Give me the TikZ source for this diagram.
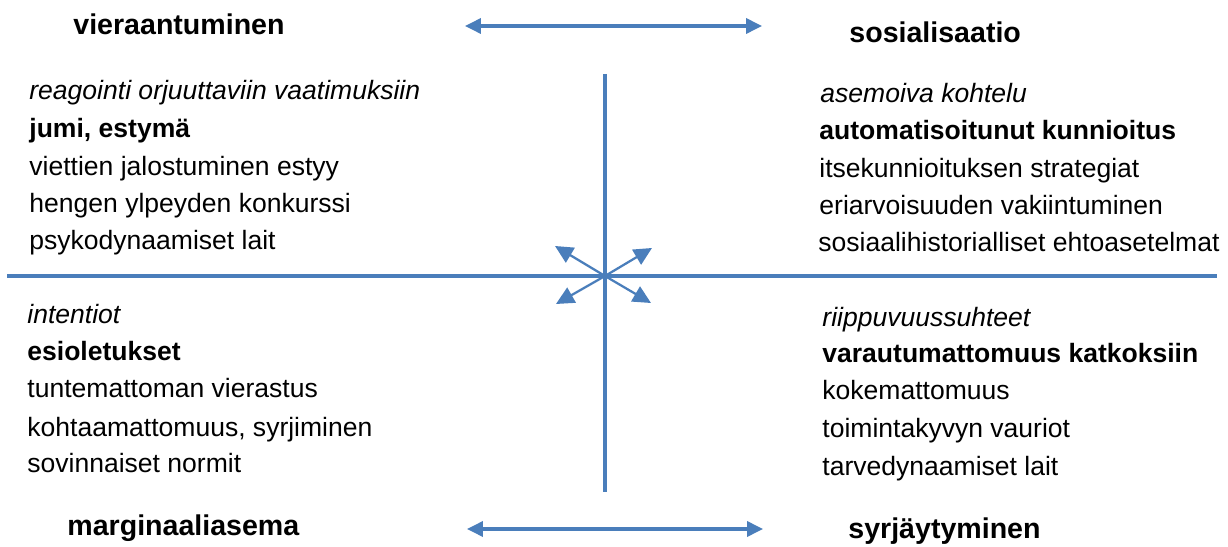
\documentclass[tikz,border=0pt]{standalone}
\usepackage{fontspec}
\setmainfont{Liberation Sans}
\usetikzlibrary{arrows.meta}
\definecolor{lineblue}{RGB}{74,126,187}
\tikzset{
  px/.style={x=0.49pt,y=-0.49pt},
  axis/.style={draw=lineblue,line width=1.5pt},
  dbl/.style={draw=lineblue,line width=1.5pt,{Triangle[length=7.8pt,width=7.4pt]}-{Triangle[length=7.8pt,width=7.4pt]}},
  diag/.style={draw=lineblue,line width=1.1pt,-{Triangle[length=8.8pt,width=8.4pt]}},
  head/.style={anchor=base west,inner sep=0pt,font=\fontsize{14pt}{16pt}\selectfont\bfseries},
  txt/.style={anchor=base west,inner sep=0pt,font=\fontsize{13pt}{15pt}\selectfont},
  itxt/.style={txt,font=\fontsize{13pt}{15pt}\selectfont\itshape},
  btxt/.style={txt,font=\fontsize{13pt}{15pt}\selectfont\bfseries}
}
\begin{document}
\begin{tikzpicture}[px]
\useasboundingbox (0,0) rectangle (1228,547);
% axes
\coordinate (vt) at (605,74);
\coordinate (vb) at (605,492);
\coordinate (hl) at (7,276);
\coordinate (hr) at (1217,276);
\coordinate (c) at (605,276);
\draw[axis] (vt) -- (vb);
\draw[axis] (hl) -- (hr);
% diagonal arrows
\coordinate (ul) at (555,246);
\coordinate (ur) at (652,248);
\coordinate (ll) at (556,304);
\coordinate (lr) at (651,303);
\draw[diag] (c) -- (ul);
\draw[diag] (c) -- (ur);
\draw[diag] (c) -- (ll);
\draw[diag] (c) -- (lr);
% top / bottom double arrows
\coordinate (ta) at (465,26);
\coordinate (tb) at (762,26);
\coordinate (ba) at (467,529);
\coordinate (bb) at (763,529);
\draw[dbl] (ta) -- (tb);
\draw[dbl] (ba) -- (bb);
% headings
\node[head] (h1) at (73,35) {vieraantuminen};
\node[head] (h2) at (849,43) {sosialisaatio};
\node[head] (h3) at (67,535) {marginaaliasema};
\node[head] (h4) at (848,538) {syrjäytyminen};
% upper left
\node[itxt] (a1) at (29,100) {reagointi orjuuttaviin vaatimuksiin};
\node[btxt] (a2) at (29,138) {jumi, estymä};
\node[txt]  (a3) at (29,176) {viettien jalostuminen estyy};
\node[txt]  (a4) at (29,213) {hengen ylpeyden konkurssi};
\node[txt]  (a5) at (29,250) {psykodynaamiset lait};
% upper right
\node[itxt] (b1) at (820,103) {asemoiva kohtelu};
\node[btxt] (b2) at (819,140) {automatisoitunut kunnioitus};
\node[txt]  (b3) at (819,178) {itsekunnioituksen strategiat};
\node[txt]  (b4) at (819,215) {eriarvoisuuden vakiintuminen};
\node[txt]  (b5) at (818,252) {sosiaalihistorialliset ehtoasetelmat};
% lower left
\node[itxt] (c1) at (27,323) {intentiot};
\node[btxt] (c2) at (27,361) {esioletukset};
\node[txt]  (c3) at (27,398) {tuntemattoman vierastus};
\node[txt]  (c4) at (27,436) {kohtaamattomuus, syrjiminen};
\node[txt]  (c5) at (27,472) {sovinnaiset normit};
% lower right
\node[itxt] (d1) at (822,327) {riippuvuussuhteet};
\node[btxt] (d2) at (822,362) {varautumattomuus katkoksiin};
\node[txt]  (d3) at (822,400) {kokemattomuus};
\node[txt]  (d4) at (822,438) {toimintakyvyn vauriot};
\node[txt]  (d5) at (822,475) {tarvedynaamiset lait};
\end{tikzpicture}
\end{document}
